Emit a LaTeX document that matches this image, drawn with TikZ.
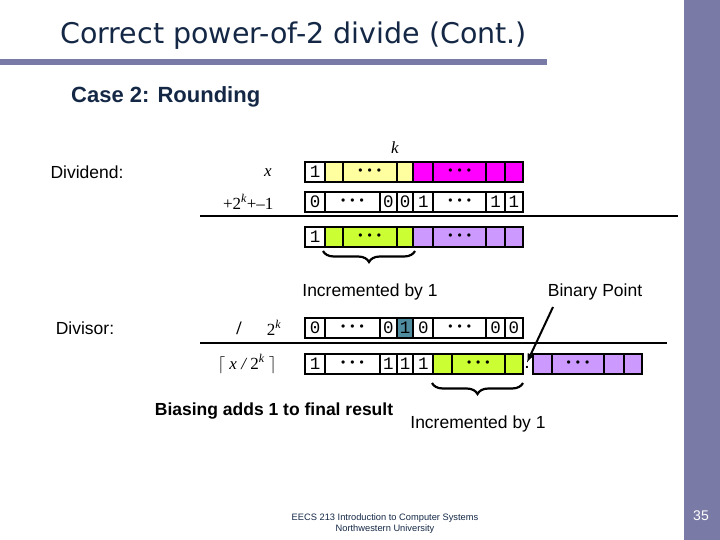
\documentclass[tikz,border=0pt]{standalone}
\usepackage{fontspec}
\setmainfont{Liberation Sans}
\newfontfamily\ver{DejaVu Sans}
\newfontfamily\tms{Liberation Serif}
\newfontfamily\crr{Liberation Mono}
\usetikzlibrary{decorations.pathreplacing}
\definecolor{bar}{RGB}{122,122,166}
\definecolor{navy}{RGB}{20,40,70}
\definecolor{yel}{RGB}{255,255,160}
\definecolor{mag}{RGB}{255,0,255}
\definecolor{lime}{RGB}{204,255,51}
\definecolor{lav}{RGB}{204,153,255}
\definecolor{teal}{RGB}{80,140,160}
\newcommand{\dts}{{\fontsize{12}{12}\selectfont\textbullet\,\textbullet\,\textbullet}}
\begin{document}
\begin{tikzpicture}[x=1pt,y=-1pt,
 cell/.style={draw=black,line width=2pt},
 bt/.style={font=\crr\fontsize{17.5}{17}\selectfont},
 lbl/.style={font=\fontsize{17.5}{19}\selectfont},
 mth/.style={font=\tms\fontsize{17}{18}\selectfont},
 brc/.style={decorate,decoration={brace,mirror,amplitude=11pt},line width=2.2pt}]
\useasboundingbox (0,0) rectangle (720,540);
\fill[bar] (684,0) rectangle (720,540);
\fill[bar] (0,59) rectangle (547,65);
\node[font=\ver\fontsize{28.5}{30}\selectfont,text=navy,anchor=west,inner sep=0pt] (title) at (60,36) {Correct power-of-2 divide (Cont.)};
\node[font=\bfseries\fontsize{22}{24}\selectfont,text=navy,anchor=west,inner sep=0pt] (case) at (71,97) {Case 2: Rounding};
\newcommand{\cellrow}[3]{%
 \foreach \a/\b/\c/\t in {#2} {\draw[cell,fill=\c] (\a,#1) rectangle (\b,#1+20);
  \node[#3] at ({(\a+\b)/2},#1+10) {\t};}}
\node[mth,font=\tms\itshape\fontsize{17}{18}\selectfont] (k) at (395,148) {k};
\node[lbl] (dvd) at (87,172) {Dividend:};
\node[mth,font=\tms\itshape\fontsize{17}{18}\selectfont] (x) at (268,173) {x};
\node[mth,anchor=east] (p2k) at (277,202) {+2\textsuperscript{\itshape k}+–1};
\cellrow{162}{305/325/white/1,325/342.7/yel/,342.7/396.7/yel/\dts,396.7/413.3/yel/,413.3/433.3/mag/,433.3/486/mag/\dts,486/505/mag/,505/522.7/mag/}{bt}
\cellrow{192}{305/325/white/0,325/380/white/\dts,380/396.7/white/0,396.7/413.3/white/0,413.3/433.3/white/1,433.3/486/white/\dts,486/505/white/1,505/522.7/white/1}{bt}
\draw[line width=2pt] (200,216) -- (678,216);
\cellrow{227}{305/325/white/1,325/342.7/lime/,342.7/396.7/lime/\dts,396.7/413.3/lime/,413.3/433.3/lav/,433.3/486/lav/\dts,486/505/lav/,505/522.7/lav/}{bt}
\coordinate (b1a) at (323,251); \coordinate (b1b) at (415,251);
\draw[brc] (b1a) -- (b1b);
\node[lbl] (inc1) at (370,292) {Incremented by 1};
\node[lbl] (bp) at (595,292) {Binary Point};
\node[lbl] (dvs) at (85,328) {Divisor:};
\node[mth,font=\tms\bfseries\fontsize{19}{18}\selectfont] (sl) at (239,328) {/};
\node[mth] (tk) at (274,328) {2\textsuperscript{\itshape k}};
\cellrow{318}{305/325/white/0,325/380/white/\dts,380/396.7/white/0,396.7/413.3/teal/1,413.3/433.3/white/0,433.3/486/white/\dts,486/505/white/0,505/522.7/white/0}{bt}
\draw[line width=2pt] (200,343) -- (667,343);
\node[mth,anchor=east] (res) at (280,364) {$\lceil$ \itshape x / \upshape 2\textsuperscript{\itshape k} $\rceil$};
\cellrow{354}{305/325/white/1,325/380/white/\dts,380/396.7/white/1,396.7/413.3/white/1,413.3/433.3/white/1,433.3/451.7/lime/,451.7/505/lime/\dts,505/522.7/lime/,533/552/lav/,552/604/lav/\dts,604/624/lav/,624/642/lav/}{bt}
\node[font=\bfseries\fontsize{14}{14}\selectfont] (dot) at (527,367) {.};
\coordinate (bps) at (553,307);
\draw[line width=2pt,-latex] (bps) -- (dot.north);
\coordinate (b2a) at (432,383); \coordinate (b2b) at (523,383);
\draw[brc] (b2a) -- (b2b);
\node[font=\bfseries\fontsize{17.5}{19}\selectfont] (bias) at (274,411) {Biasing adds 1 to final result};
\node[lbl] (inc2) at (478,424) {Incremented by 1};
\node[font=\fontsize{9.3}{11}\selectfont,align=center,text=navy] (foot) at (385,524) {EECS 213 Introduction to Computer Systems\\Northwestern University};
\node[font=\fontsize{14}{15}\selectfont,text=white] (pg) at (701,516) {35};
\end{tikzpicture}
\end{document}
